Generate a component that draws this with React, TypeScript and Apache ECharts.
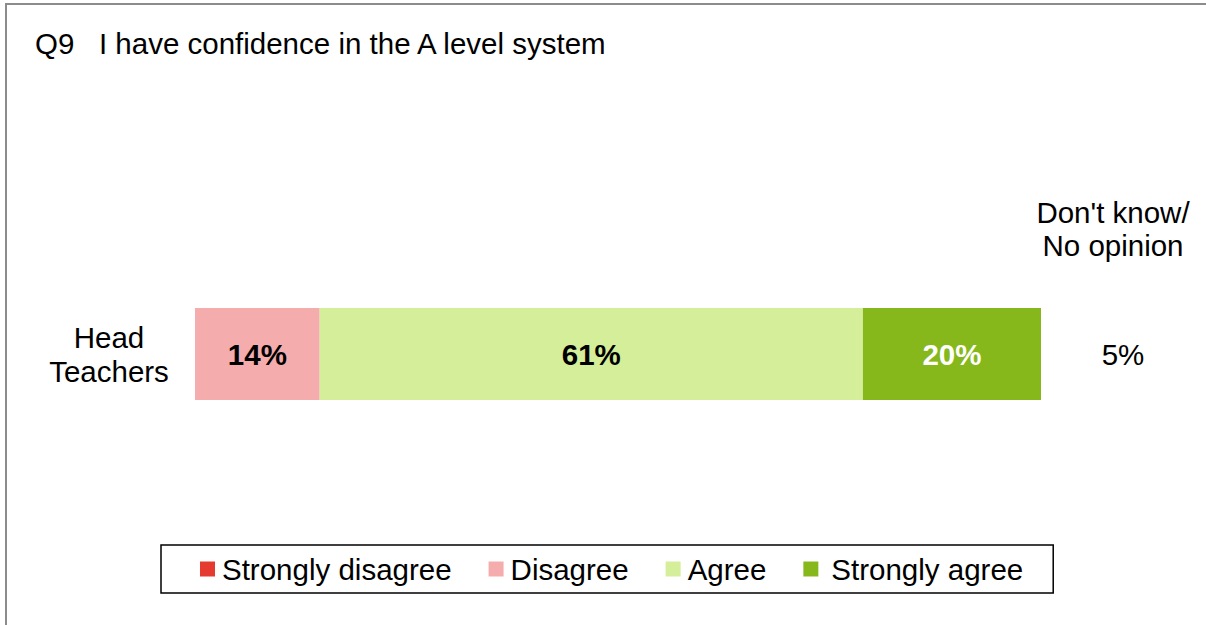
import React, { useEffect, useRef } from "react";
import * as echarts from "echarts";

const categories = ["Head\nTeachers"];
const seriesNames = ["Strongly disagree", "Disagree", "Agree", "Strongly agree"];
const stronglyDisagree = [0];
const disagree = [14];
const agree = [61];
const stronglyAgree = [20];
const dontKnow = [5];
const dontKnowHeader = "Don't know/\nNo opinion";
const titleText = "Q9\u00A0\u00A0\u00A0I have confidence in the A level system";

const colors = ["#E53A2F", "#F4ADAC", "#D4EE99", "#86B81C"];
const labelColors = ["#000", "#000", "#000", "#fff"];

const FONT = "Liberation Sans, Arial, sans-serif";
const FS = 29.5;

export default function App() {
  const ref = useRef<HTMLDivElement>(null);
  useEffect(() => {
    if (!ref.current) return;
    const chart = echarts.init(ref.current, null, { renderer: "svg" });
    const allValues = [stronglyDisagree, disagree, agree, stronglyAgree];
    const total = allValues.reduce((s, arr) => s + arr[0], 0);
    chart.setOption({
      animation: false,
      textStyle: { fontFamily: FONT },
      title: {
        text: titleText,
        left: 35,
        top: 28,
        padding: 0,
        textStyle: { fontFamily: FONT, fontSize: FS, fontWeight: "normal", color: "#000" },
      },
      legend: {
        data: seriesNames,
        left: 161,
        top: 545,
        orient: "horizontal",
        icon: "rect",
        itemWidth: 15,
        itemHeight: 15,
        itemGap: 37,
        padding: [9, 30, 9, 39],
        borderColor: "#000",
        borderWidth: 1.5,
        formatter: (name: string) =>
          name === "Strongly agree" ? "{sa|" + name + "}" : "{n|" + name + "}",
        textStyle: {
          fontFamily: FONT,
          fontSize: FS,
          color: "#000",
          lineHeight: 29,
          rich: {
            n: { fontFamily: FONT, fontSize: FS, color: "#000", lineHeight: 29, padding: [0, 0, 0, 2] },
            sa: { fontFamily: FONT, fontSize: FS, color: "#000", lineHeight: 29, padding: [0, 0, 0, 8] },
          },
        },
      },
      grid: { left: 195, right: 165, top: 308, bottom: 225, containLabel: false },
      xAxis: {
        type: "value",
        min: 0,
        max: total,
        show: false,
      },
      yAxis: {
        type: "category",
        data: categories,
        axisLine: { show: false },
        axisTick: { show: false },
        axisLabel: {
          fontFamily: FONT,
          fontSize: FS,
          lineHeight: 34,
          color: "#000",
          align: "center",
          margin: 86,
        },
      },
      series: allValues.map((vals, i) => ({
        name: seriesNames[i],
        type: "bar",
        stack: "total",
        barWidth: "100%",
        data: vals,
        itemStyle: { color: colors[i] },
        label: {
          show: true,
          position: "inside",
          fontFamily: FONT,
          fontSize: FS,
          fontWeight: "bold",
          color: labelColors[i],
          formatter: (p: any) => (p.value > 0 ? p.value + "%" : ""),
        },
      })),
      graphic: [
        {
          type: "rect",
          shape: { x: 6, y: 4, width: 1240, height: 660 },
          style: { fill: "none", stroke: "#8c8c8c", lineWidth: 2 },
          silent: true,
        },
        {
          type: "text",
          x: 1113,
          y: 229,
          style: {
            text: dontKnowHeader,
            fontFamily: FONT,
            fontSize: FS,
            lineHeight: 33,
            fill: "#000",
            align: "center",
            verticalAlign: "middle",
          },
        },
        {
          type: "text",
          x: 1123,
          y: 354,
          style: {
            text: dontKnow[0] + "%",
            fontFamily: FONT,
            fontSize: FS,
            fill: "#000",
            align: "center",
            verticalAlign: "middle",
          },
        },
      ],
    });
    return () => chart.dispose();
  }, []);
  return (
    <div
      ref={ref}
      style={{ position: "fixed", left: 0, top: 0, width: 1206, height: 625, background: "#fff" }}
    />
  );
}
